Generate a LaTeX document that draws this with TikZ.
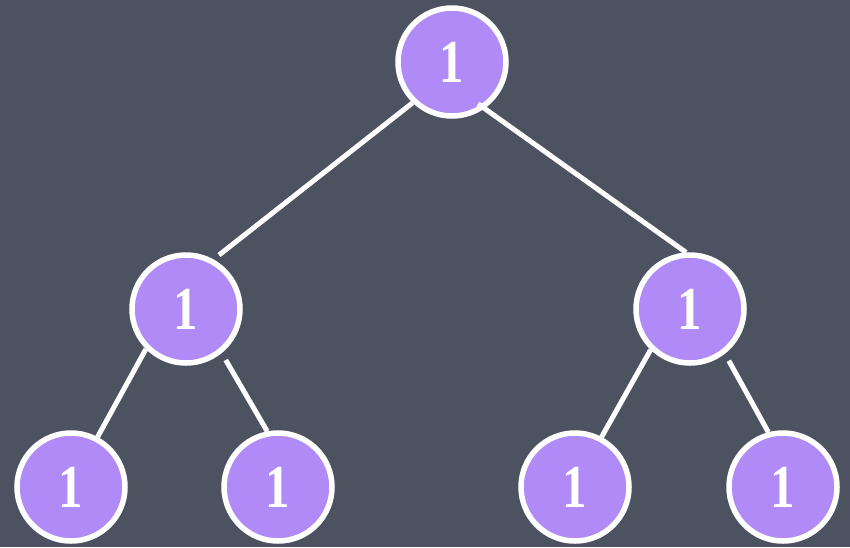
\documentclass[tikz,border=0pt]{standalone}
\usepackage{fontspec}
\newfontfamily\digitfont[FakeStretch=0.8]{Liberation Serif}
\definecolor{bgslate}{HTML}{4D5261}
\definecolor{nodepurple}{HTML}{B08AF6}
\begin{document}
\begin{tikzpicture}[x=1pt,y=-1pt,
  treenode/.style={circle,fill=nodepurple,draw=white,line width=5.5pt,
    minimum size=108pt,inner sep=0pt,text=white,
    font=\digitfont\bfseries\fontsize{61}{61}\selectfont},
  edge/.style={draw=white,line width=5pt}]
\fill[bgslate] (0,0) rectangle (850,547);
\useasboundingbox (0,0) rectangle (850,547);
\node[treenode] (root) at (452,62) {1};
\node[treenode] (l) at (186,309) {1};
\node[treenode] (r) at (690,309) {1};
\node[treenode] (ll) at (71,487) {1};
\node[treenode] (lr) at (278,487) {1};
\node[treenode] (rl) at (575,487) {1};
\node[treenode] (rr) at (783,487) {1};
\draw[edge,shorten >=7pt] (root.226) -- (l.61);
\draw[edge,shorten <=-8pt] (root.-55) -- (r.94);
\draw[edge] (l.225) -- (ll.62);
\draw[edge,shorten <=8pt] (l.-51) -- (lr.101);
\draw[edge] (r.226) -- (rl.62);
\draw[edge,shorten <=8pt] (r.-52) -- (rr.105);
\end{tikzpicture}
\end{document}
